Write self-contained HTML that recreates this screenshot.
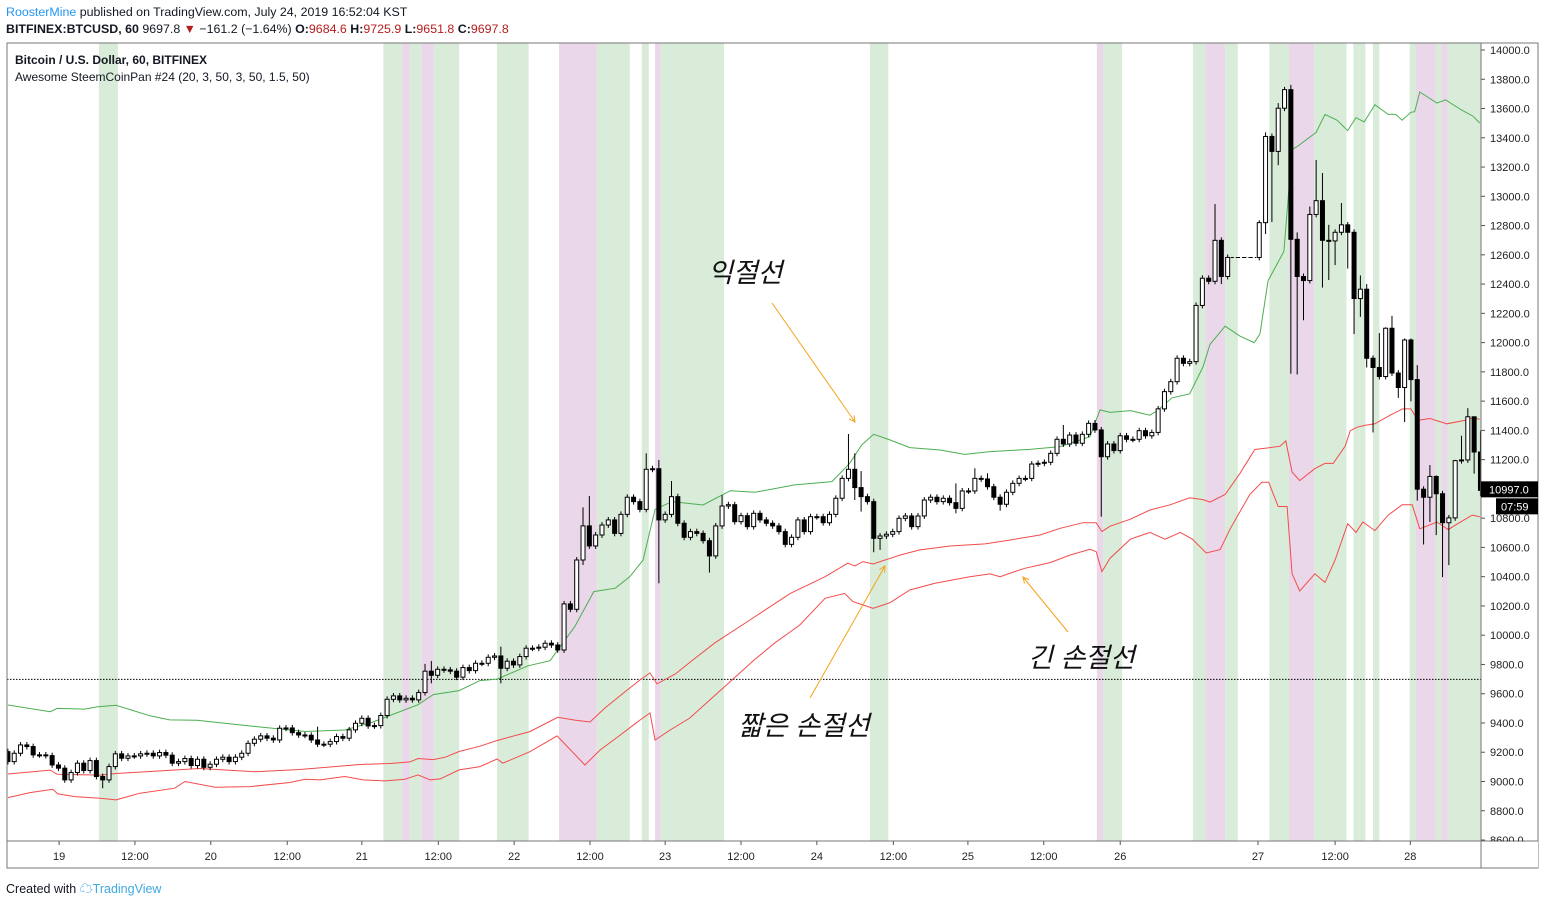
<!DOCTYPE html>
<html><head><meta charset="utf-8">
<style>
html,body{margin:0;padding:0;background:#fff;}
body{width:1545px;height:905px;overflow:hidden;position:relative;font-family:"Liberation Sans","Noto Sans CJK KR",sans-serif;}
.hdr{position:absolute;left:6px;font-size:12.4px;color:#131722;white-space:nowrap;}
.red{color:#b71c1c;}
</style></head>
<body>
<div class="hdr" style="top:5px"><span style="color:#2196f3">RoosterMine</span> published on TradingView.com, July 24, 2019 16:52:04 KST</div>
<div class="hdr" style="top:22px"><b>BITFINEX:BTCUSD, 60</b> 9697.8 <span class="red">▼</span> −161.2 (−1.64%) <b>O:</b><span class="red">9684.6</span> <b>H:</b><span class="red">9725.9</span> <b>L:</b><span class="red">9651.8</span> <b>C:</b><span class="red">9697.8</span></div>
<svg id="chart" width="1545" height="905" style="position:absolute;left:0;top:0" xmlns="http://www.w3.org/2000/svg"></svg>
<div class="hdr" style="top:878px;font-size:12.5px;color:#131722">Created with <span style="color:#2196f3;font-size:13px">☁</span><span style="color:#3fa9e0">TradingView</span></div>
<script>
// ---- data ----
const firstOpen = 9204;
const closes = [9136,9193,9250,9239,9182,9182,9177,9113,9091,9011,9061,9125,9075,9143,9034,9011,9102,9189,9159,9175,9175,9189,9193,9175,9198,9180,9125,9136,9157,9109,9152,9097,9118,9152,9166,9136,9166,9193,9261,9289,9312,9296,9284,9364,9366,9334,9318,9316,9284,9255,9255,9273,9307,9296,9353,9398,9432,9380,9382,9451,9562,9585,9558,9569,9558,9608,9754,9726,9767,9763,9754,9713,9779,9758,9808,9808,9849,9858,9774,9822,9797,9854,9911,9911,9918,9945,9933,9899,
10214,10177,10514,10747,10610,10685,10753,10788,10696,10826,10943,10913,10860,11134,11138,10788,10826,10947,10765,10669,10708,10696,10646,10542,10747,10883,10892,10776,10817,10742,10833,10788,10765,10747,10708,10621,10669,10788,10708,10810,10810,10769,10826,10936,11072,11134,11009,10947,10913,10662,10678,10690,10708,10799,10815,10742,10815,10924,10943,10913,10936,10906,10867,10986,10986,11072,11068,11015,10943,10895,10977,11038,11072,11072,11170,11175,11182,11243,11339,11307,11368,11312,11373,11448,11403,11220,11307,
11262,11363,11339,11339,11398,11363,11386,11547,11665,11733,11893,11858,11870,12254,12440,12419,12699,12452,12582,12582,12582,12582,12582,12820,13409,13307,13602,13729,12706,12452,12424,12876,12970,12699,12695,12754,12805,12754,12301,12365,11893,11830,11768,12098,11792,11693,12018,11747,10998,10943,11085,10967,10769,10802,11193,11198,11493,11252,10990];
const gapCandles = [195,196,197,198];
const highs = {46:9387,50:9375,67:9804,68:9824,79:9922,92:10874,93:10952,102:11243,104:11198,106:11054,114:10958,134:11375,135:11243,136:11122,151:11038,154:11141,156:11107,168:11437,173:11471,192:12947,199:12836,200:13437,202:13637,203:13748,204:13762,205:12753,207:12930,208:13248,209:13159,210:12805,212:12954,215:12459,216:12400,218:12065,219:12105,220:12183,222:12028,223:12028,224:11846,226:11163,227:11092,230:11198,231:11363,232:11552,233:11398,234:11398};
const lows = {16:8954,68:9671,79:9671,92:10480,104:10355,112:10428,135:10924,136:10845,138:10567,139:10583,151:10833,158:10851,174:10810,193:12400,200:12742,201:12824,202:13213,204:11787,205:11782,206:12153,209:12376,210:12428,211:12530,213:12506,214:12058,215:12176,216:11830,217:11386,221:11622,222:11457,223:11599,224:10920,225:10620,226:10774,227:10684,228:10397,229:10479,233:11104,234:10950};
const greenT = [0,6.7,7.8,12.2,14.1,17.1,22.5,25.6,29.9,36.7,41.5,47,53.3,57.6,64.9,67.3,71.4,74.7,77.4,82.3,85.8,86.9,89.7,92.7,96.1,98.4,100.5,102.4,105.1,110,114.3,118.2,124.5,130.4,133.2,135.1,137,139.6,142.7,147.5,151.4,155.4,161.7,166.5,171.2,172.8,174.4,177.6,180.7,181.8,184.2,187,189.1,190.2,192.6,194.9,197.2,198.1,199.4,201.9,203.2,204.1,207,208.4,210.3,212,213.3,214.6,216.3,218.4,219.6,220.6,222,222.6,223.4,226.1,227.5,230,231.8,232.9];
const greenV = [9523,9477,9500,9495,9510,9521,9449,9421,9419,9387,9366,9342,9352,9404,9525,9594,9621,9690,9700,9791,9826,9894,10059,10298,10321,10400,10514,10861,10913,10890,10988,10977,11027,11050,11175,11300,11373,11334,11282,11266,11236,11255,11270,11289,11357,11540,11523,11535,11504,11533,11622,11650,11834,11988,12112,12046,11999,12058,12423,12624,13319,13343,13437,13560,13520,13449,13538,13508,13626,13560,13560,13520,13574,13578,13713,13637,13659,13590,13548,13501];
const upperT = [0,6.7,7.8,14.6,17.1,30.4,39.1,46.2,55.7,60.5,63.6,64.9,67.3,69.2,71.4,74.7,77.4,82.6,87,89.7,92.1,94.5,97.6,100,101.6,102.7,105.6,108.4,111.9,117.4,123.8,129.3,132.9,134,135.3,136.9,138.8,141.2,144.3,149.1,154.6,158.6,163.3,166.5,170.1,172.2,173.1,174.4,177.6,180.7,183.9,187,189.1,190.2,192.6,194.9,197.3,199.4,201.3,202.2,203.2,204.4,206.8,208.4,209.7,211.6,212.4,213.5,214.7,216.3,218.7,220.7,222,223.1,225,227.7,230.6,231.8,232.9];
const upperV = [9051,9078,9049,9044,9055,9089,9066,9082,9116,9123,9134,9157,9150,9166,9205,9241,9280,9341,9439,9420,9407,9503,9612,9694,9742,9667,9735,9831,9949,10104,10286,10400,10492,10473,10503,10487,10514,10548,10583,10610,10624,10651,10685,10731,10769,10769,10708,10745,10793,10856,10891,10939,10927,10910,10962,11103,11269,11280,11292,11328,11115,11057,11139,11174,11174,11292,11398,11422,11434,11445,11504,11547,11547,11469,11481,11445,11469,11485,11476];
const lowerT = [0,3.5,7.1,7.9,10.6,14.6,17.1,20.9,26.4,28,32.8,38.3,44.6,47,49.4,53.3,56.2,59.7,62.8,64.9,66.8,68.4,71.4,74.7,77.4,78.3,82.6,86.9,91.3,93.7,96.9,100,101.6,102.4,104.8,107.9,118.1,121.4,125.3,129.3,132.4,133.7,134.8,136.9,139.6,142.7,146.7,152.2,155.4,157,159.3,160.9,164.9,168.1,171.2,172.2,173.1,174.4,177.6,180.7,183.1,185.5,187.4,189.6,191.8,193.4,196.5,198.4,199.5,201,202.4,203.2,204.4,206.8,208.4,210,212,213.3,214.4,216.3,218.4,220.6,222.2,223.4,226.1,227.9,229.4,231.7,232.9];
const lowerV = [8890,8924,8947,8915,8897,8886,8874,8920,8954,9000,8961,8965,8993,9015,9011,9034,9011,9004,9015,9045,9011,9018,9079,9102,9154,9125,9204,9312,9113,9215,9318,9420,9468,9284,9352,9434,9831,9949,10070,10252,10286,10230,10214,10184,10223,10309,10355,10400,10419,10400,10435,10457,10496,10548,10587,10571,10435,10526,10656,10703,10656,10703,10656,10562,10585,10727,10962,11045,11045,10880,10880,10420,10302,10420,10361,10514,10762,10703,10774,10715,10821,10891,10891,10727,10774,10722,10762,10821,10809];
// background signal bands: start/end in candle-hour units, kind
const bandStart = [14.4,59.4,62.4,63.6,65.4,67.4,77.4,87.2,93.2,100.3,102.4,103.3,136.4,172.3,173.3,187.5,189.5,192.6,199.6,202.7,206.7,212.9,213.9,216.0,221.8,222.8,225.9,226.8,227.8];
const bandEnd   = [17.4,62.4,63.6,65.4,67.4,71.4,82.4,93.2,98.4,101.4,103.3,113.3,139.3,173.3,176.3,189.5,192.6,194.6,202.7,206.7,211.8,213.9,214.8,217.0,222.8,225.9,226.8,227.8,233.5];
const bandKind  = ['g','g','p','g','p','g','g','p','g','g','p','g','g','p','g','g','p','g','g','p','g','g','g','g','g','p','g','p','g'];
const priceTicks = [8600,8800,9000,9200,9400,9600,9800,10000,10200,10400,10600,10800,11000,11200,11400,11600,11800,12000,12200,12400,12600,12800,13000,13200,13400,13600,13800,14000];
const timeTickT = [8.1,20.1,32.1,44.2,56,68.1,80.1,92.1,104,116,128,140.1,151.9,163.9,176,197.8,210,221.9];
const timeTickL = ['19','12:00','20','12:00','21','12:00','22','12:00','23','12:00','24','12:00','25','12:00','26','27','12:00','28'];
const lastPrice = 10997.0;
const refPrice = 9697.8;

// ---- axes ----
const PL=7, PR=1481, PT=43, PB=841;
const X = t => 7.9 + t*6.32;
const Y = p => 50 + (14000-p)/200*29.26;
const NS='http://www.w3.org/2000/svg';
const svg=document.getElementById('chart');
function mk(tag, attrs, parent){const e=document.createElementNS(NS,tag);for(const k in attrs)e.setAttribute(k,attrs[k]);(parent||svg).appendChild(e);return e;}

const defs=mk('defs',{});
const cp=mk('clipPath',{id:'plotclip'},defs);
mk('rect',{x:PL,y:PT,width:PR-PL,height:PB-PT},cp);
const plot=mk('g',{'clip-path':'url(#plotclip)'});



// bands
bandStart.forEach((s,i)=>{
  const r=mk('rect',{x:X(s),y:PT,width:(bandEnd[i]-s)*6.32,height:PB-PT,fill:bandKind[i]==='g'?'#d9ebd9':'#ead8ea'},plot);
  
  
});

// reference dotted line
const dl=mk('line',{x1:PL,x2:PR,y1:Y(refPrice),y2:Y(refPrice),stroke:'#000','stroke-width':1,'stroke-dasharray':'1.5,1.5'},plot);



// indicator lines
function line(T,V,color,name){
  const d=T.map((t,i)=>(i?'L':'M')+X(t).toFixed(1)+','+Y(V[i]).toFixed(1)).join('');
  const p=mk('path',{d:d,fill:'none',stroke:color,'stroke-width':1},plot);
  
  
}
line(greenT,greenV,'#4caf50','take-profit-line');
line(upperT,upperV,'#f44b4b','short-stop-line');
line(lowerT,lowerV,'#f44b4b','long-stop-line');

// candles
let prev=firstOpen;
const cg=mk('g',{},plot);


const gapIdx=new Set(gapCandles);
closes.forEach((c,i)=>{
  const k=i+1, o=prev; prev=c;
  const x=X(i);
  if(gapIdx.has(k)){
    const g=mk('line',{x1:x-3.2,x2:x+3.2,y1:Y(c),y2:Y(c),stroke:'#000','stroke-width':1,'stroke-dasharray':'3,2'},cg);
    
    
    return;
  }
  const hi=highs[k]!==undefined?highs[k]:Math.max(o,c)+20;
  const lo=lows[k]!==undefined?lows[k]:Math.min(o,c)-20;
  const w=mk('line',{x1:x,x2:x,y1:Y(hi),y2:Y(lo),stroke:'#000','stroke-width':1},cg);
  
  
  const top=Y(Math.max(o,c)), h=Math.max(1,Y(Math.min(o,c))-top);
  const b=mk('rect',{x:x-2,y:top,width:4,height:h,fill:c>=o?'#fff':'#000',stroke:'#000','stroke-width':1},cg);
  
  
});

// frame
const fr=mk('rect',{x:PL,y:PT,width:1538-PL,height:868-PT,fill:'none',stroke:'#777','stroke-width':1});


mk('line',{x1:PR,x2:PR,y1:PT,y2:868,stroke:'#777'});
mk('line',{x1:PL,x2:1538,y1:PB,y2:PB,stroke:'#777'});

// price axis
priceTicks.forEach(p=>{
  const y=Y(p);
  mk('line',{x1:PR,x2:PR+4,y1:y,y2:y,stroke:'#555'});
  const t=mk('text',{x:1490,y:y+4,'font-size':11,fill:'#222','font-family':'Liberation Sans, sans-serif'});
  t.textContent=p.toFixed(1);
  
  
});
mk('rect',{x:PR+1,y:PB+0.5,width:56,height:26,fill:'#fff'});
// last price tag
const ly=Y(lastPrice);
const lt=mk('rect',{x:PR,y:ly-8,width:57,height:16,fill:'#000'});


const ltt=mk('text',{x:1489,y:ly+4,'font-size':11,fill:'#fff','font-family':'Liberation Sans, sans-serif'});
ltt.textContent=lastPrice.toFixed(1);


const ct=mk('rect',{x:1496,y:ly+9,width:42,height:16,fill:'#000'});


const ctt=mk('text',{x:1501,y:ly+21,'font-size':11,fill:'#fff','font-family':'Liberation Sans, sans-serif'});
ctt.textContent='07:59';



// time axis
timeTickT.forEach((t,i)=>{
  const x=X(t);
  mk('line',{x1:x,x2:x,y1:PB,y2:PB+4,stroke:'#555'});
  const tx=mk('text',{x:x,y:860,'font-size':11,fill:'#222','text-anchor':'middle','font-family':'Liberation Sans, sans-serif'});
  tx.textContent=timeTickL[i];
  
  
});

// legend
const lg1=mk('text',{x:15,y:64,'font-size':12,'font-weight':'bold',fill:'#131722','font-family':'Liberation Sans, sans-serif'});
lg1.textContent='Bitcoin / U.S. Dollar, 60, BITFINEX';


const lg2=mk('text',{x:15,y:81,'font-size':12,fill:'#131722','font-family':'Liberation Sans, sans-serif'});
lg2.textContent='Awesome SteemCoinPan #24 (20, 3, 50, 3, 50, 1.5, 50)';



// annotations
const OR='#f5a31a';
mk('defs',{}).innerHTML='<marker id="ah" markerWidth="8" markerHeight="8" refX="6" refY="4" orient="auto"><path d="M0,1 L6,4 L0,7" fill="none" stroke="'+OR+'" stroke-width="1"/></marker>';
function arrow(x1,y1,x2,y2,name){
  const a=mk('line',{x1:x1,y1:y1,x2:x2,y2:y2,stroke:OR,'stroke-width':1,'marker-end':'url(#ah)'});
  
  
}
function label(x,y,s,name){
  const t=mk('text',{x:x,y:y,'font-size':27,fill:'#111','font-style':'italic','font-family':'Liberation Sans, Noto Sans CJK KR, sans-serif'});
  t.textContent=s;
  
  
}
label(708,282,'익절선','take-profit-annotation');
arrow(772,303,855,422,'take-profit-arrow');
label(738,735,'짧은 손절선','short-stop-annotation');
arrow(810,698,885,566,'short-stop-arrow');
label(1028,667,'긴 손절선','long-stop-annotation');
arrow(1068,632,1023,577,'long-stop-arrow');
</script>
</body></html>
